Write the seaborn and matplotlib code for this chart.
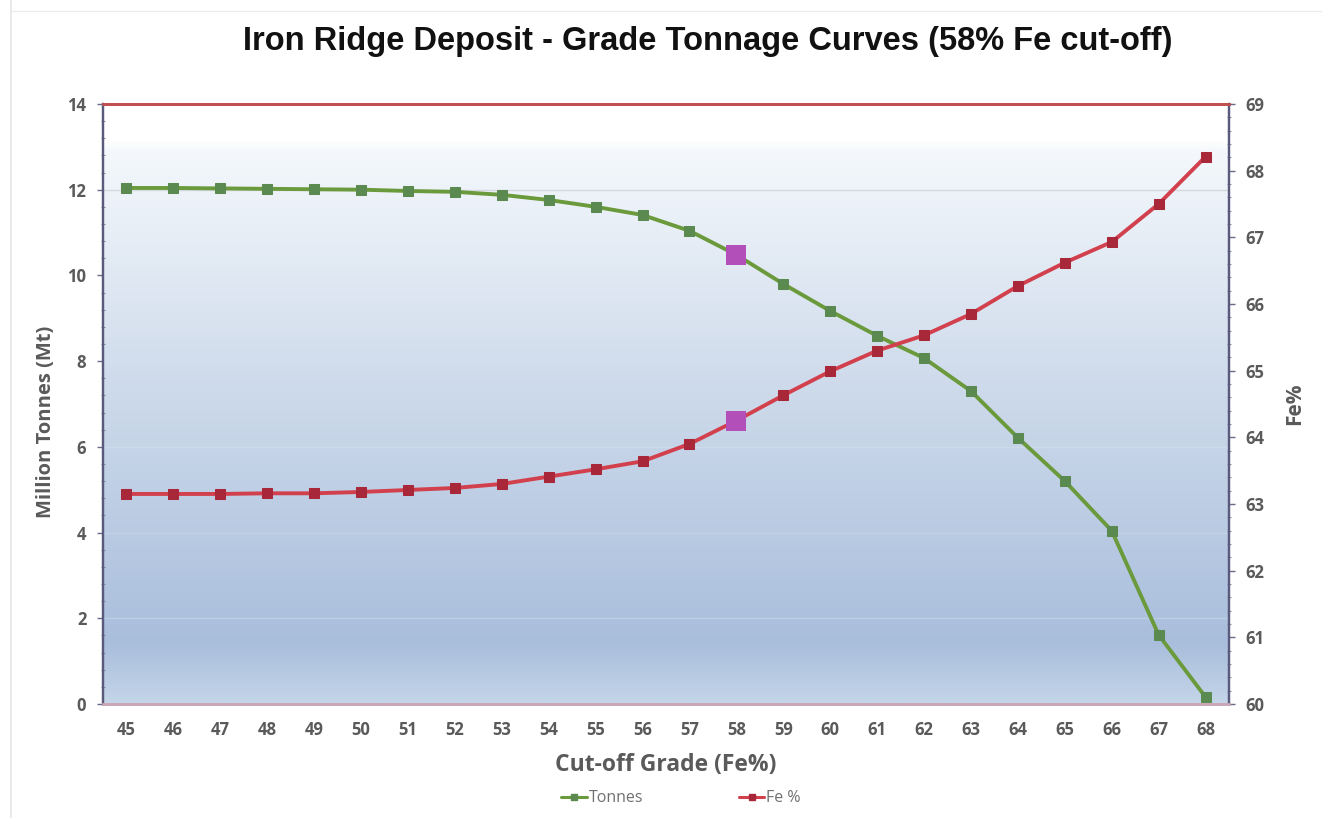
import numpy as np
import pandas as pd
import matplotlib
matplotlib.use("Agg")
import matplotlib.pyplot as plt
from matplotlib.colors import LinearSegmentedColormap
from matplotlib.lines import Line2D
from matplotlib.ticker import MultipleLocator
import seaborn as sns

# Grade-tonnage data
cutoff = [45, 46, 47, 48, 49, 50, 51, 52, 53, 54, 55, 56,
          57, 58, 59, 60, 61, 62, 63, 64, 65, 66, 67, 68]
tonnes = [12.04, 12.04, 12.03, 12.02, 12.01, 12.00, 11.97, 11.95, 11.88, 11.76, 11.60, 11.41,
          11.04, 10.48, 9.80, 9.17, 8.59, 8.07, 7.30, 6.21, 5.20, 4.04, 1.61, 0.16]
fe_grade = [63.15, 63.15, 63.15, 63.16, 63.16, 63.18, 63.21, 63.24, 63.30, 63.41, 63.52, 63.64,
            63.90, 64.25, 64.63, 64.99, 65.30, 65.53, 65.85, 66.27, 66.62, 66.93, 67.50, 68.21]
selected_cutoff = 58

title = "Iron Ridge Deposit - Grade Tonnage Curves (58% Fe cut-off)"
xlabel = "Cut-off Grade (Fe%)"
ylabel_left = "Million Tonnes (Mt)"
ylabel_right = "Fe%"

df = pd.DataFrame({"cutoff": cutoff, "tonnes": tonnes, "fe": fe_grade})
sel = df[df["cutoff"] == selected_cutoff]

sns.set_theme(style="white")
plt.rcParams["font.family"] = ["Open Sans", "DejaVu Sans"]

fig = plt.figure(figsize=(13.22, 8.18), dpi=100)
ax = fig.add_axes([0.0779, 0.1394, 0.8518, 0.7335])
ax2 = ax.twinx()
ax2.patch.set_visible(False)

# Plot-area gradient fill
grad_cmap = LinearSegmentedColormap.from_list(
    "plotfill",
    [(0.0, "#ffffff"), (0.06, "#ffffff"), (0.08, "#f4f8fc"), (0.45, "#d0dcec"),
     (0.90, "#a9bedc"), (1.0, "#c4d5e8")])
grad = np.linspace(0, 1, 512).reshape(-1, 1)
ax.imshow(grad, extent=[0, 1, 0, 1], transform=ax.transAxes, cmap=grad_cmap,
          aspect="auto", origin="upper", zorder=0)

# Horizontal gridlines
for yv in range(2, 14, 2):
    ax.axhline(yv, color="#dfe6ee" if yv != 12 else "#cfd3d8", lw=1.0, zorder=1,
               alpha=0.8 if yv == 12 else 0.35)

green_line = "#6b9a3c"
green_mark = "#5b8a50"
red_line = "#d2404e"
red_mark = "#a8283a"
highlight = "#b24fb8"

sns.lineplot(data=df, x="cutoff", y="tonnes", ax=ax, color=green_line, lw=2.8,
             marker="s", markersize=6.5, markerfacecolor=green_mark,
             markeredgecolor=green_mark, zorder=3)
sns.lineplot(data=df, x="cutoff", y="fe", ax=ax2, color=red_line, lw=2.8,
             marker="s", markersize=6.5, markerfacecolor=red_mark,
             markeredgecolor=red_mark, zorder=3)
sns.scatterplot(data=sel, x="cutoff", y="tonnes", ax=ax, color=highlight, marker="s",
                s=190, edgecolor=highlight, linewidth=0, zorder=4)
sns.scatterplot(data=sel, x="cutoff", y="fe", ax=ax2, color=highlight, marker="s",
                s=190, edgecolor=highlight, linewidth=0, zorder=4)

ax.set_xlim(44.5, 68.5)
ax.set_ylim(0, 14)
ax2.set_ylim(60, 69)
ax.set_xticks(cutoff)
ax.set_xticklabels([str(c) for c in cutoff])
ax.yaxis.set_major_locator(MultipleLocator(2))
ax.yaxis.set_minor_locator(MultipleLocator(0.4))
ax2.yaxis.set_major_locator(MultipleLocator(1))
ax2.yaxis.set_minor_locator(MultipleLocator(0.2))

tick_color = "#5a5a5a"
for a in (ax, ax2):
    a.tick_params(axis="y", which="major", length=4, width=1, color="#6a6a8a",
                  labelsize=12, labelcolor=tick_color, direction="out", pad=8)
    a.tick_params(axis="y", which="minor", length=3, width=0.8, color="#8a8aa8",
                  direction="inout")
ax.tick_params(axis="x", length=0, labelsize=12, labelcolor=tick_color, pad=12)
for lab in ax.get_xticklabels() + ax.get_yticklabels() + ax2.get_yticklabels():
    lab.set_fontweight("bold")

for a in (ax, ax2):
    a.spines["top"].set_color("#c0504d")
    a.spines["top"].set_linewidth(2.0)
    a.spines["bottom"].set_color("#c9a7b6")
    a.spines["bottom"].set_linewidth(2.0)
    a.spines["left"].set_color("#5a5a7c")
    a.spines["left"].set_linewidth(1.6)
    a.spines["right"].set_color("#5a5a7c")
    a.spines["right"].set_linewidth(1.6)

label_color = "#5a5a5a"
ax.set_xlabel(xlabel, fontsize=16.5, fontweight="bold", color=label_color, labelpad=10)
ax.set_ylabel(ylabel_left, fontsize=14.5, fontweight="bold", color=label_color)
ax.yaxis.set_label_coords(-0.042, 0.47)
ax2.set_ylabel(ylabel_right, fontsize=15, fontweight="bold", color=label_color, labelpad=14)

fig.text(0.535, 0.949, title, ha="center", va="center", fontsize=23.5, fontweight="bold",
         color="#111111", family=["Liberation Sans", "DejaVu Sans"])

handles = [
    Line2D([], [], color=green_line, lw=2.2, marker="s", markersize=5,
           markerfacecolor=green_mark, markeredgecolor=green_mark),
    Line2D([], [], color=red_line, lw=2.2, marker="s", markersize=5,
           markerfacecolor=red_mark, markeredgecolor=red_mark),
]
leg = fig.legend(handles, ["Tonnes", "Fe %"], loc="center", bbox_to_anchor=(0.515, 0.024),
                 ncol=2, frameon=False, fontsize=11.5, handlelength=1.6, handletextpad=0.1,
                 columnspacing=6.0)
for t in leg.get_texts():
    t.set_color("#707070")

# Faint page edges
fig.add_artist(Line2D([0.008, 0.008], [0, 1], transform=fig.transFigure,
                      color="#e6e6e6", lw=1.2))
fig.add_artist(Line2D([0.008, 1], [0.987, 0.987], transform=fig.transFigure,
                      color="#ececec", lw=1.0))

ax.set_zorder(1)
ax2.set_zorder(2)

fig.savefig("out.png", dpi=100)
